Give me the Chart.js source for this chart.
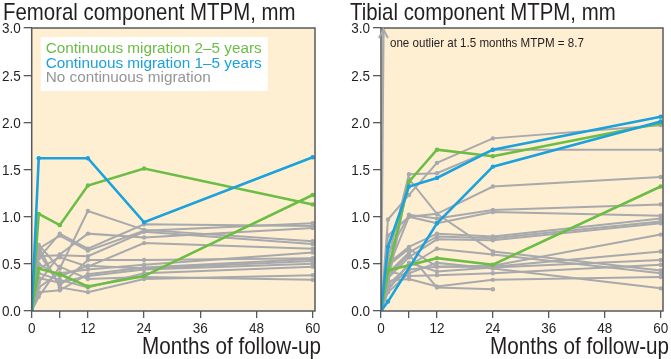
<!DOCTYPE html>
<html lang="en">
<head>
  <meta charset="UTF-8">
  <title>Femoral and tibial component MTPM</title>
  <script src="https://cdn.jsdelivr.net/npm/chart.js"></script>
  <style>
    body {
      margin: 0;
      background: #ffffff;
      width: 671px;
      height: 359px;
      overflow: hidden;
    }
    .panel {
      position: absolute;
      top: 0;
      height: 359px;
    }
    #femPanel { left: 0; width: 335px; }
    #tibPanel { left: 335px; width: 336px; }
  </style>
</head>
<body>

  <div class="panel" id="femPanel"><canvas id="femChart"></canvas></div>
  <div class="panel" id="tibPanel"><canvas id="tibChart"></canvas></div>

  <script>
    const months = [0, 1.5, 6, 12, 24, 60];
    const xTicks = [0, 6, 12, 24, 36, 48, 60];
    const xLabelSkip = [6];

    // femoral component
    const femBlue = [0, 1.62, null, 1.62, 0.94, 1.63];
    const femGreenA = [0, 1.03, 0.91, 1.33, 1.51, 1.13];
    const femGreenB = [0, 0.45, 0.39, 0.26, 0.37, 1.23];
    const femGray = [
      [0, 0.70, 0.45, 1.06, 0.86, 0.74],
      [0, 0.66, 0.80, 0.64, 0.85, 0.93],
      [0, 0.56, 0.82, 0.66, 0.92, 0.90],
      [0, 0.30, 0.60, 0.82, 0.78, 0.88],
      [0, 0.62, 0.27, 0.54, 0.54, 0.56],
      [0, 0.45, 0.57, 0.47, 0.72, 0.66],
      [0, 0.25, 0.40, 0.44, 0.49, 0.62],
      [0, 0.20, 0.22, 0.39, 0.46, 0.55],
      [0, 0.35, 0.30, 0.37, 0.44, 0.50],
      [0, 0.68, 0.25, 0.20, 0.34, 0.38],
      [0, 0.15, 0.47, 0.34, 0.36, 0.33],
      [0, 0.50, 0.37, 0.48, 0.45, 0.53],
      [0, 0.40, 0.33, 0.25, 0.40, 0.47],
      [0, 0.58, 0.59, 0.58, 0.84, 0.71]
    ];

    // tibial component
    const tibBlueA = [0, 0.68, 1.32, 1.41, 1.71, 2.06];
    const tibBlueB = [0, 0.10, null, 0.93, 1.53, 2.01];
    const tibGreenA = [0, 0.43, 1.37, 1.71, 1.64, 1.99];
    const tibGreenB = [0, 0.43, null, 0.56, 0.49, 1.32];
    const tibGray = [
      [0, 0.97, 1.23, 1.57, 1.83, 1.97],
      [0, 0.55, 1.45, 1.46, 1.71, 1.71],
      [0, 0.80, 1.00, 1.03, 1.32, 1.42],
      [0, 0.60, 1.02, 0.98, 1.07, 1.13],
      [0, 0.45, 1.00, 0.93, 1.05, 1.01],
      [0, 0.50, 0.68, 0.82, 0.79, 0.98],
      [0, 0.40, 0.62, 0.79, 0.77, 0.95],
      [0, 0.35, 0.57, 0.76, 0.75, 0.93],
      [0, 0.30, 1.40, 1.03, 0.63, 0.43],
      [0, 0.28, 0.48, 0.66, 0.60, 0.40],
      [0, 0.25, 0.44, 0.47, 0.48, 0.81],
      [0, 0.22, 0.51, 0.42, 0.46, 0.54],
      [0, 0.42, 0.37, 0.38, 0.40, 0.49],
      [0, 0.32, 0.34, 0.26, 0.33, 0.36],
      [0, 0.38, 0.60, 0.25, 0.23, null],
      [0, 0.20, 0.40, 0.51, 0.45, 0.24],
      [0, 0.48, 0.66, 0.47, 0.47, 0.63]
    ];
    const outlierMonths = [0, 1.5];
    const outlierValues = [0, 8.7];

    const GREEN = '#6cbd45';
    const BLUE = '#1ba1dc';
    const GRAY = '#a7a9ac';
    const INK = '#231f20';
    const SANS = '"Liberation Sans", Arial, sans-serif';

    const toPoints = (xs, ys) => xs.map((x, i) => ({ x: x, y: ys[i] }));

    const lineSet = (values, color, width) => ({
      data: toPoints(months, values),
      borderColor: color,
      backgroundColor: color,
      borderWidth: width,
      pointRadius: 2.2,
      pointBorderWidth: 0,
      spanGaps: true,
      tension: 0
    });

    // the original uses a condensed face; squeeze Liberation Sans sideways
    function narrowText(ctx, text, x, y, size, align, squeeze) {
      ctx.save();
      ctx.font = size + 'px ' + SANS;
      ctx.textAlign = align;
      ctx.textBaseline = 'alphabetic';
      ctx.translate(x, y);
      ctx.scale(squeeze, 1);
      ctx.fillText(text, 0, 0);
      ctx.restore();
    }

    // peach plot box with dark frame, plus the panel texts
    const panelDecor = {
      id: 'panelDecor',
      beforeDatasetsDraw(chart) {
        const { ctx, chartArea: a } = chart;
        ctx.save();
        ctx.fillStyle = '#feefd3';
        ctx.fillRect(a.left, a.top, a.right - a.left, a.bottom - a.top);
        ctx.restore();
      },
      afterDatasetsDraw(chart, args, opts) {
        const { ctx, chartArea: a } = chart;
        const xs = chart.scales.x, ys = chart.scales.y;
        ctx.save();
        ctx.strokeStyle = '#58595b';
        ctx.lineWidth = 1.5;
        ctx.strokeRect(a.left, a.top, a.right - a.left, a.bottom - a.top);

        ctx.fillStyle = INK;
        narrowText(ctx, opts.title, opts.titleX, 20, 24, 'left', 0.85);
        narrowText(ctx, 'Months of follow-up', a.right + 6, 354, 24, 'right', 0.86);

        xs.ticks.forEach(t => {
          if (xLabelSkip.includes(t.value)) return;
          narrowText(ctx, String(t.value), xs.getPixelForValue(t.value), 332.5, 15, 'center', 0.9);
        });
        ys.ticks.forEach(t => {
          narrowText(ctx, t.value.toFixed(1), a.left - 11, ys.getPixelForValue(t.value) + 5.4, 15, 'right', 0.9);
        });

        if (opts.legend) {
          ctx.fillStyle = '#ffffff';
          ctx.fillRect(a.left + 9, a.top + 9, 227, 54);
          ctx.font = '15.3px ' + SANS;
          ctx.textBaseline = 'middle';
          ctx.textAlign = 'left';
          opts.legend.forEach((item, i) => {
            ctx.fillStyle = item.color;
            ctx.fillText(item.text, a.left + 14, a.top + 21 + i * 14.5);
          });
        }

        if (opts.note) {
          // arrow head where the outlier line leaves the top of the box
          const t = (ys.max - outlierValues[0]) / (outlierValues[1] - outlierValues[0]);
          const px = xs.getPixelForValue(outlierMonths[0] + t * (outlierMonths[1] - outlierMonths[0]));
          const py = ys.getPixelForValue(ys.max);
          ctx.strokeStyle = GRAY;
          ctx.lineWidth = 2;
          ctx.beginPath();
          ctx.moveTo(px - 4.5, py + 10);
          ctx.lineTo(px, py + 1.5);
          ctx.lineTo(px + 4.5, py + 10);
          ctx.stroke();

          ctx.fillStyle = INK;
          narrowText(ctx, opts.note, a.left + 9, a.top + 18.5, 13, 'left', 0.89);
        }
        ctx.restore();
      }
    };

    function makePanel(id, datasets, yWidth, padRight, decor) {
      return new Chart(document.getElementById(id).getContext('2d'), {
        type: 'line',
        data: { datasets: datasets },
        options: {
          responsive: true,
          maintainAspectRatio: false,
          animation: false,
          layout: { padding: { top: 28, right: padRight, bottom: 0, left: 0 } },
          plugins: {
            legend: { display: false },
            tooltip: { enabled: false },
            panelDecor: decor
          },
          scales: {
            x: {
              type: 'linear',
              min: 0,
              max: 60.5,
              afterBuildTicks: s => { s.ticks = xTicks.map(v => ({ value: v })); },
              afterFit: s => { s.height = 48; },
              grid: { drawOnChartArea: false, drawTicks: true, tickLength: 7, color: '#58595b', lineWidth: 1.3 },
              border: { display: false },
              ticks: { display: false }
            },
            y: {
              min: 0,
              max: 3,
              afterFit: s => { s.width = yWidth; },
              grid: { drawOnChartArea: false, drawTicks: true, tickLength: 8, color: '#58595b', lineWidth: 1.3 },
              border: { display: false },
              ticks: { display: false, stepSize: 0.5 }
            }
          }
        },
        plugins: [panelDecor]
      });
    }

    makePanel('femChart', [
      lineSet(femBlue, BLUE, 2.6),
      lineSet(femGreenA, GREEN, 2.6),
      lineSet(femGreenB, GREEN, 2.6),
      ...femGray.map(v => lineSet(v, GRAY, 2))
    ], 31.7, 20, {
      title: 'Femoral component MTPM, mm',
      titleX: 3,
      legend: [
        { text: 'Continuous migration 2\u20135 years', color: GREEN },
        { text: 'Continuous migration 1\u20135 years', color: BLUE },
        { text: 'No continuous migration', color: '#939598' }
      ]
    });

    makePanel('tibChart', [
      lineSet(tibBlueA, BLUE, 2.6),
      lineSet(tibBlueB, BLUE, 2.6),
      lineSet(tibGreenA, GREEN, 2.6),
      lineSet(tibGreenB, GREEN, 2.6),
      ...tibGray.map(v => lineSet(v, GRAY, 2)),
      {
        data: toPoints(outlierMonths, outlierValues),
        borderColor: GRAY,
        borderWidth: 2.4,
        pointRadius: 0
      }
    ], 46, 8, {
      title: 'Tibial component MTPM, mm',
      titleX: 15,
      note: 'one outlier at 1.5 months MTPM = 8.7'
    });
  </script>

</body>
</html>
